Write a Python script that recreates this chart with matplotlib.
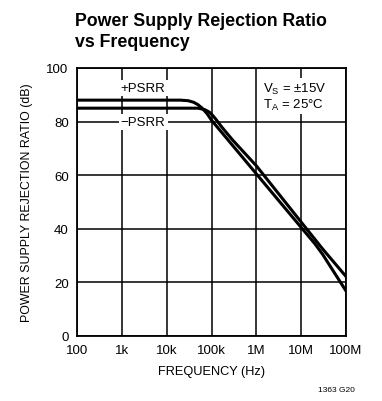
import matplotlib
matplotlib.use('Agg')
import matplotlib.pyplot as plt

plt.rcParams['font.family'] = ['Liberation Sans Narrow', 'Liberation Sans', 'DejaVu Sans']

# +PSRR curve (Hz, dB)
pos_freq = [100, 1e3, 1e4, 2e4, 3e4, 4e4, 5e4, 6e4, 7e4, 8e4, 1e5, 2e5, 1e6, 1e7, 2e7, 3e7, 1e8]
pos_db = [88, 88, 88, 88, 87.8, 87.2, 86.3, 85.2, 84.0, 82.9, 80.5, 74.5, 60.5, 40.5, 34.5, 30.5, 16.8]

# -PSRR curve (Hz, dB)
neg_freq = [100, 1e3, 1e4, 5e4, 7e4, 9e4, 1.1e5, 1.3e5, 1.6e5, 2e5, 3e5, 1e6, 1e7, 3e7, 1e8]
neg_db = [85, 85, 85, 85, 84.5, 83.5, 82.0, 80.5, 78.5, 76.5, 73, 63.5, 42.5, 32.5, 22.2]

xticks = [1e2, 1e3, 1e4, 1e5, 1e6, 1e7, 1e8]
xlabels = ['100', '1k', '10k', '100k', '1M', '10M', '100M']
yticks = [0, 20, 40, 60, 80, 100]

fig = plt.figure(figsize=(3.82, 4.02), dpi=100)
ax = fig.add_axes([0.2016, 0.1617, 0.7042, 0.6667])

ax.plot(pos_freq, pos_db, color='black', lw=2.2, zorder=3)
ax.plot(neg_freq, neg_db, color='black', lw=2.2, zorder=3)

ax.set_xscale('log')
ax.set_xlim(1e2, 1e8)
ax.set_ylim(0, 100)
ax.set_xticks(xticks)
ax.set_xticklabels(xlabels)
ax.set_yticks(yticks)
ax.minorticks_off()
ax.tick_params(length=0, labelsize=9.5, pad=6)
ax.grid(True, color='black', lw=1.1)
for s in ax.spines.values():
    s.set_linewidth(1.3)

ax.set_xlabel('FREQUENCY (Hz)', fontsize=9.2, labelpad=6)
ax.set_ylabel('POWER SUPPLY REJECTION RATIO (dB)', fontsize=8.9, labelpad=10)

box = dict(facecolor='white', edgecolor='none', pad=1.5)
ax.text(3e3, 92.5, '+PSRR', ha='center', va='center', fontsize=9.5, bbox=box, zorder=4)
ax.text(3e3, 79.8, '\u2212PSRR', ha='center', va='center', fontsize=9.5, bbox=box, zorder=4)
ax.text(1.4e6, 92.5, '$\\mathregular{V_S}$ = \u00b115V', ha='left', va='center', fontsize=9.5,
        bbox=box, zorder=4)
ax.text(1.4e6, 86.5, '$\\mathregular{T_A}$ = 25\u00b0C', ha='left', va='center', fontsize=9.5,
        bbox=box, zorder=4)

fig.text(0.196, 0.968, 'Power Supply Rejection Ratio\nvs Frequency', ha='left', va='top',
         fontsize=12.8, fontweight='bold', linespacing=1.3)
fig.text(0.93, 0.02, '1363 G20', ha='right', va='bottom', fontsize=6)

fig.savefig('out.png', dpi=100)
